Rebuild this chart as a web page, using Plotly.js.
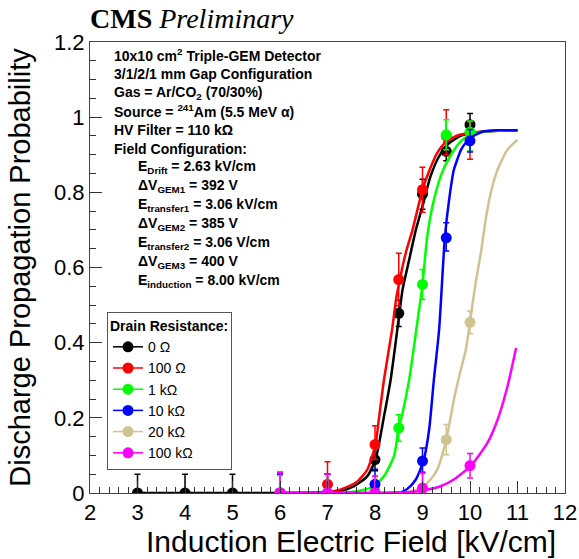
<!DOCTYPE html>
<html>
<head>
<meta charset="utf-8">
<script src="https://cdn.plot.ly/plotly-3.0.1.min.js"></script>
<style>html,body{margin:0;padding:0;background:#fff;}#chart{width:579px;height:559px;}</style>
</head>
<body>
<div id="chart"></div>
<script>
// ---------- data ----------
const seriesNames = ['0 Ω', '100 Ω', '1 kΩ', '10 kΩ', '20 kΩ', '100 kΩ'];
const seriesColors = ['#000000', '#ff0000', '#00ff00', '#0000ff', '#cfc490', '#ff00ff'];

// measured points
const x0 = [3, 4, 5, 6, 7, 8, 8.5, 9, 9.5, 10];
const y0 = [0, 0, 0, 0, 0, 0.089, 0.478, 0.795, 0.909, 0.98];
const up0 = [0.05, 0.05, 0.05, 0.05, 0.05, 0.03, 0.035, 0.04, 0.025, 0.03];
const dn0 = [0, 0, 0, 0, 0, 0.03, 0.035, 0.04, 0.025, 0.03];

const x100 = [6, 7, 8, 8.5, 9, 9.5, 10];
const y100 = [0, 0.023, 0.129, 0.568, 0.807, 0.95, 0.958];
const up100 = [0.055, 0.06, 0.05, 0.07, 0.06, 0.07, 0.03];
const dn100 = [0, 0.023, 0.04, 0.07, 0.06, 0.05, 0.07];

const x1k = [6, 7, 8, 8.5, 9, 9.5, 10];
const y1k = [0, 0, 0.005, 0.173, 0.555, 0.953, 0.96];
const up1k = [0.05, 0.05, 0.04, 0.035, 0.04, 0.04, 0.03];
const dn1k = [0, 0, 0.005, 0.035, 0.04, 0.04, 0.05];

const x10k = [6, 7, 8, 9, 9.5, 10];
const y10k = [0, 0, 0.023, 0.085, 0.679, 0.937];
const up10k = [0.05, 0.05, 0.04, 0.035, 0.04, 0.03];
const dn10k = [0, 0, 0.023, 0.03, 0.035, 0.03];

const x20k = [6, 7, 8, 9, 9.5, 10];
const y20k = [0, 0, 0, 0.01, 0.142, 0.454];
const up20k = [0.045, 0.045, 0.04, 0.04, 0.04, 0.03];
const dn20k = [0, 0, 0, 0.01, 0.04, 0.03];

const x100k = [6, 7, 8, 9, 10];
const y100k = [0, 0, 0, 0.013, 0.073];
const up100k = [0.055, 0.05, 0.045, 0.04, 0.032];
const dn100k = [0, 0, 0, 0.013, 0.033];

// fitted curves
const fx0 = [3, 6.5, 7.0, 7.27, 7.56, 7.84, 8.01, 8.19, 8.33, 8.47, 8.58, 8.72, 8.86, 9.0, 9.17, 9.35, 9.55, 9.8, 10.0, 10.3, 10.6, 11];
const fy0 = [0, 0, 0.001, 0.005, 0.018, 0.045, 0.089, 0.204, 0.302, 0.435, 0.541, 0.621, 0.70, 0.763, 0.843, 0.896, 0.93, 0.95, 0.957, 0.962, 0.964, 0.965];

const fx100 = [6, 6.8, 7.0, 7.27, 7.38, 7.63, 7.84, 8.01, 8.08, 8.19, 8.36, 8.45, 8.55, 8.65, 8.79, 9.0, 9.15, 9.31, 9.5, 9.75, 10.0, 10.3, 10.6, 11];
const fy100 = [0, 0.001, 0.003, 0.009, 0.014, 0.031, 0.0625, 0.129, 0.195, 0.302, 0.435, 0.52, 0.585, 0.64, 0.70, 0.807, 0.86, 0.905, 0.935, 0.952, 0.958, 0.962, 0.964, 0.965];

const fx1k = [6, 7.2, 7.63, 7.98, 8.19, 8.40, 8.5, 8.58, 8.72, 8.87, 9.0, 9.1, 9.24, 9.42, 9.6, 9.8, 10.0, 10.3, 10.6, 11];
const fy1k = [0, 0, 0.005, 0.018, 0.045, 0.098, 0.173, 0.213, 0.302, 0.435, 0.555, 0.683, 0.78, 0.855, 0.90, 0.935, 0.952, 0.962, 0.964, 0.965];

const fx10k = [6, 8.0, 8.54, 8.68, 8.86, 9.02, 9.14, 9.24, 9.35, 9.47, 9.56, 9.66, 9.74, 9.81, 9.91, 10.02, 10.23, 10.54, 11];
const fy10k = [0, 0, 0.002, 0.011, 0.036, 0.085, 0.169, 0.302, 0.435, 0.679, 0.78, 0.86, 0.89, 0.913, 0.932, 0.945, 0.96, 0.965, 0.965];

const fx20k = [6, 8.5, 8.7, 8.96, 9.17, 9.31, 9.5, 9.68, 9.83, 9.91, 10.0, 10.05, 10.12, 10.23, 10.33, 10.44, 10.58, 10.79, 11.0];
const fy20k = [0, 0, 0.003, 0.014, 0.036, 0.0625, 0.142, 0.26, 0.34, 0.38, 0.454, 0.50, 0.56, 0.64, 0.727, 0.80, 0.86, 0.914, 0.94];

const fx100k = [6, 8.0, 8.68, 9.03, 9.38, 9.66, 10.02, 10.37, 10.58, 10.79, 10.97];
const fy100k = [0, 0, 0.002, 0.0075, 0.018, 0.036, 0.073, 0.134, 0.195, 0.284, 0.386];

// axes
const xTickVals = [2, 3, 4, 5, 6, 7, 8, 9, 10, 11, 12];
const xTickText = ['2', '3', '4', '5', '6', '7', '8', '9', '10', '11', '12'];
const yTickVals = [0, 0.2, 0.4, 0.6, 0.8, 1.0, 1.2];
const yTickText = ['0', '0.2', '0.4', '0.6', '0.8', '1', '1.2'];
const xTitle = 'Induction Electric Field [kV/cm]';
const yTitle = 'Discharge Propagation Probability';

// info text
const infoLines = [
  '10x10 cm<sup>2</sup> Triple-GEM Detector',
  '3/1/2/1 mm Gap Configuration',
  'Gas = Ar/CO<sub>2</sub> (70/30%)',
  'Source = <sup>241</sup>Am (5.5 MeV α)',
  'HV Filter = 110 kΩ',
  'Field Configuration:'
];
const fieldLines = [
  'E<sub>Drift</sub> = 2.63 kV/cm',
  'ΔV<sub>GEM1</sub> = 392 V',
  'E<sub>transfer1</sub> = 3.06 kV/cm',
  'ΔV<sub>GEM2</sub> = 385 V',
  'E<sub>transfer2</sub> = 3.06 V/cm',
  'ΔV<sub>GEM3</sub> = 400 V',
  'E<sub>induction</sub> = 8.00 kV/cm'
];

// ---------- build ----------
const pts = [[x0, y0, up0, dn0], [x100, y100, up100, dn100], [x1k, y1k, up1k, dn1k],
             [x10k, y10k, up10k, dn10k], [x20k, y20k, up20k, dn20k], [x100k, y100k, up100k, dn100k]];
const fits = [[fx0, fy0], [fx100, fy100], [fx1k, fy1k], [fx10k, fy10k], [fx20k, fy20k], [fx100k, fy100k]];

const W = 579, H = 559;
const M = {l: 90, r: 14, t: 42, b: 66};
const PW = W - M.l - M.r, PH = H - M.t - M.b;
const px = v => (v - M.l) / PW;
const py = v => (H - M.b - v) / PH;

const traces = [];
for (let i = 0; i < 6; i++) {
  traces.push({
    x: fits[i][0], y: fits[i][1], type: 'scatter', mode: 'lines',
    line: {color: seriesColors[i], width: 2.5, shape: 'spline', smoothing: 0.6},
    showlegend: false, hoverinfo: 'skip'
  });
  traces.push({
    x: pts[i][0], y: pts[i][1], type: 'scatter', mode: 'markers',
    marker: {color: seriesColors[i], size: 11, symbol: 'circle'},
    error_y: {type: 'data', symmetric: false, array: pts[i][2], arrayminus: pts[i][3],
              color: seriesColors[i], thickness: 1.5, width: 3},
    showlegend: false
  });
}
for (let i = 0; i < 6; i++) {
  traces.push({
    x: [null], y: [null], type: 'scatter', mode: 'lines+markers', name: seriesNames[i],
    legendgroup: 'g' + i,
    line: {color: seriesColors[i], width: 1.5},
    marker: {color: seriesColors[i], size: 11}
  });
}

const txtFont = {family: 'Liberation Sans, Arial, sans-serif', size: 14, color: '#000'};
const annotations = [];
infoLines.forEach((t, k) => {
  annotations.push({text: '<b>' + t + '</b>', xref: 'paper', yref: 'paper',
    x: px(112), y: py(55 + k * 18.8), xanchor: 'left', yanchor: 'middle', showarrow: false,
    font: txtFont});
});
fieldLines.forEach((t, k) => {
  annotations.push({text: '<b>' + t + '</b>', xref: 'paper', yref: 'paper',
    x: px(135.5), y: py(167.3 + k * 18.9), xanchor: 'left', yanchor: 'middle', showarrow: false,
    font: txtFont});
});
annotations.push({text: '<b>CMS</b> <i>Preliminary</i>', xref: 'paper', yref: 'paper',
  x: px(88), y: py(19), xanchor: 'left', yanchor: 'middle', showarrow: false,
  font: {family: 'Liberation Serif, Times New Roman, serif', size: 28, color: '#000'}});
// x-axis title, right-aligned to the axis end as in the original
annotations.push({text: xTitle, xref: 'paper', yref: 'paper',
  x: px(558), y: py(541), xanchor: 'right', yanchor: 'middle', showarrow: false,
  font: {family: 'Liberation Sans, Arial, sans-serif', size: 30, color: '#000'}});

const axisFont = {family: 'Liberation Sans, Arial, sans-serif', size: 22, color: '#000'};
const layout = {
  width: W, height: H,
  margin: M,
  paper_bgcolor: '#fff', plot_bgcolor: '#fff',
  font: {family: 'Liberation Sans, Arial, sans-serif', color: '#000'},
  xaxis: {
    range: [2, 12], tickvals: xTickVals, ticktext: xTickText,
    ticks: 'inside', ticklen: 12, tickwidth: 1, tickcolor: '#333',
    minor: {dtick: 0.2, ticks: 'inside', ticklen: 6, tickcolor: '#333', showgrid: false},
    showline: true, linecolor: '#444', linewidth: 1, mirror: true,
    showgrid: false, zeroline: false, tickfont: axisFont
  },
  yaxis: {
    range: [0, 1.2], tickvals: yTickVals, ticktext: yTickText,
    ticks: 'inside', ticklen: 12, tickwidth: 1, tickcolor: '#333',
    minor: {dtick: 0.05, ticks: 'inside', ticklen: 6, tickcolor: '#333', showgrid: false},
    showline: true, linecolor: '#444', linewidth: 1, mirror: true,
    showgrid: false, zeroline: false, tickfont: axisFont,
    title: {text: yTitle, font: {family: 'Liberation Sans, Arial, sans-serif', size: 29, color: '#000'}, standoff: 14}
  },
  legend: {
    x: px(107), y: py(312), xanchor: 'left', yanchor: 'top',
    bgcolor: '#fff', bordercolor: '#555', borderwidth: 1,
    font: {family: 'Liberation Sans, Arial, sans-serif', size: 14, color: '#000'},
    title: {text: '<b>Drain Resistance:</b>', font: {family: 'Liberation Sans, Arial, sans-serif', size: 14, color: '#000'}},
    tracegroupgap: 2, traceorder: 'normal'
  },
  annotations: annotations,
  showlegend: true
};

Plotly.newPlot('chart', traces, layout, {displayModeBar: false, staticPlot: true});
</script>
</body>
</html>
